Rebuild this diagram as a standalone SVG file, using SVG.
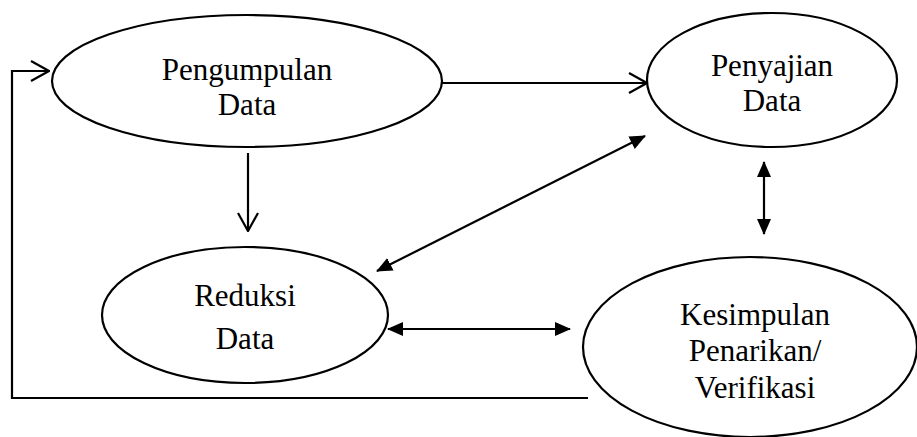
<svg xmlns="http://www.w3.org/2000/svg" width="917" height="437" viewBox="0 0 917 437">
  <style>
    .node { fill: #ffffff; stroke: #000000; stroke-width: 2.2; }
    .lbl { font-family: 'Liberation Serif', 'DejaVu Serif', serif; font-size: 31px; fill: #000000; text-anchor: middle; }
    .edge { fill: none; stroke: #000000; stroke-width: 2.2; }
  </style>
  <defs>
    <marker id="open" viewBox="0 0 20 22" refX="19" refY="11" markerWidth="20" markerHeight="22" markerUnits="userSpaceOnUse" orient="auto">
      <path d="M1,1 L19,11 L1,21" fill="none" stroke="#000" stroke-width="2.2"/>
    </marker>
    <marker id="solid" viewBox="0 0 16 14" refX="15" refY="7" markerWidth="16" markerHeight="14" markerUnits="userSpaceOnUse" orient="auto-start-reverse">
      <path d="M0,0 L16,7 L0,14 Z" fill="#000"/>
    </marker>
  </defs>

  <g id="connectors">
    <line class="edge" x1="442" y1="83" x2="647" y2="83" marker-end="url(#open)"/>
    <line class="edge" x1="248" y1="153" x2="248" y2="231" marker-end="url(#open)"/>
    <line class="edge" x1="377" y1="271" x2="645" y2="136" marker-start="url(#solid)" marker-end="url(#solid)"/>
    <line class="edge" x1="764" y1="162" x2="764" y2="234" marker-start="url(#solid)" marker-end="url(#solid)"/>
    <line class="edge" x1="388" y1="329" x2="570" y2="329" marker-start="url(#solid)" marker-end="url(#solid)"/>
    <polyline class="edge" points="588,398 12,398 12,71 49,71" marker-end="url(#open)"/>
  </g>

  <g id="pengumpulan">
    <ellipse class="node" cx="247" cy="81" rx="195" ry="66"/>
    <text class="lbl" font-family="Liberation Serif, serif" x="247" y="80">Pengumpulan</text>
    <text class="lbl" font-family="Liberation Serif, serif" x="247" y="115">Data</text>
  </g>

  <g id="penyajian">
    <ellipse class="node" cx="772" cy="80" rx="125" ry="67"/>
    <text class="lbl" font-family="Liberation Serif, serif" x="772" y="76">Penyajian</text>
    <text class="lbl" font-family="Liberation Serif, serif" x="772" y="111">Data</text>
  </g>

  <g id="reduksi">
    <ellipse class="node" cx="245" cy="315" rx="143" ry="68"/>
    <text class="lbl" font-family="Liberation Serif, serif" x="245" y="306">Reduksi</text>
    <text class="lbl" font-family="Liberation Serif, serif" x="245" y="349">Data</text>
  </g>

  <g id="kesimpulan">
    <ellipse class="node" cx="750" cy="347" rx="167" ry="90"/>
    <text class="lbl" font-family="Liberation Serif, serif" x="755" y="325">Kesimpulan</text>
    <text class="lbl" font-family="Liberation Serif, serif" x="755" y="361">Penarikan/</text>
    <text class="lbl" font-family="Liberation Serif, serif" x="755" y="398">Verifikasi</text>
  </g>
</svg>
